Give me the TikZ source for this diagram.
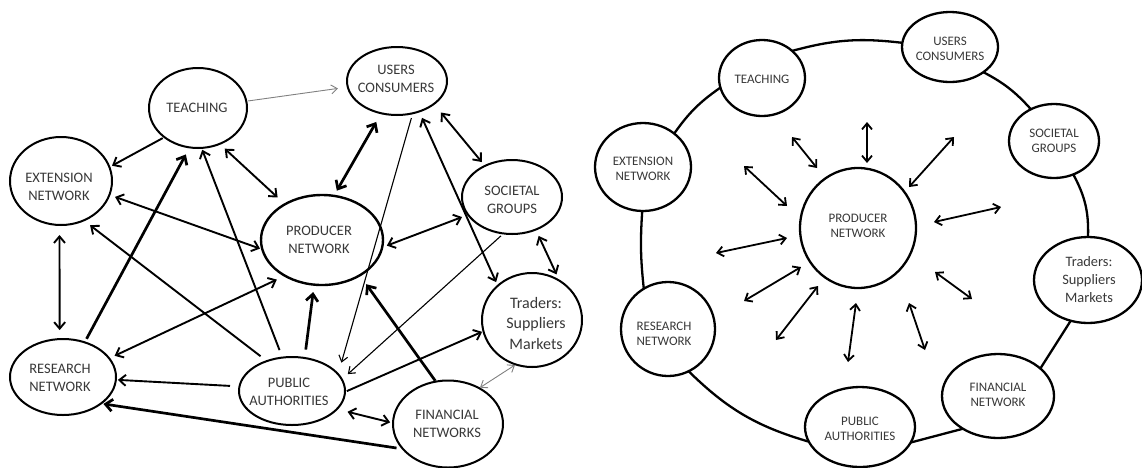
\documentclass[tikz,border=0pt]{standalone}
\usepackage{fontspec}
\setmainfont{Carlito}
\usetikzlibrary{shapes.geometric,arrows.meta}
\begin{document}
\begin{tikzpicture}[x=1pt,y=-1pt,
  ell/.style={ellipse,draw=black,line width=2pt,inner sep=0pt,outer sep=0pt},
  ellr/.style={ellipse,draw=black,line width=2.3pt,inner sep=0pt,outer sep=0pt},
  lbl/.style={align=center,text=black!78,inner sep=0pt,font=\fontsize{14.5}{18}\selectfont},
  lblbig/.style={align=center,text=black!78,inner sep=0pt,font=\fontsize{16}{20.5}\selectfont},
  lblr/.style={align=center,text=black!78,inner sep=0pt,font=\fontsize{13}{15.5}\selectfont},
  lblrbig/.style={align=center,text=black!78,inner sep=0pt,font=\fontsize{14.4}{18}\selectfont},
  conn/.style={line width=1.9pt,>={Straight Barb[length=6.5pt,width=11pt]}},
  connthick/.style={line width=2.7pt,>={Straight Barb[length=7pt,width=12pt]}},
  connthin/.style={line width=1.1pt,>={Straight Barb[length=6pt,width=9pt]}},
  conngray/.style={line width=0.9pt,draw=black!50,>={Straight Barb[length=6pt,width=9pt]}},
  connr/.style={line width=1.8pt,>={Straight Barb[length=6pt,width=10pt]}},
  ring/.style={line width=2.3pt}
]
\useasboundingbox (0,0) rectangle (1142,467);

% ---------------- left diagram ----------------
\node[ell,minimum width=98pt,minimum height=80pt] (teach) at (198,108) {};
\node[ell,minimum width=100pt,minimum height=68pt] (users) at (397,81) {};
\node[ell,minimum width=102pt,minimum height=88pt] (ext) at (61,181) {};
\node[ell,minimum width=100pt,minimum height=74pt] (soc) at (512,197) {};
\node[ell,line width=2.4pt,minimum width=122pt,minimum height=90pt] (prod) at (322,240) {};
\node[ell,minimum width=106pt,minimum height=76pt] (res) at (63,377) {};
\node[ell,minimum width=106pt,minimum height=68pt] (pa) at (292,391) {};
\node[ell,minimum width=110pt,minimum height=87pt] (fin) at (448,424) {};
\node[ell,minimum width=100pt,minimum height=94pt] (trad) at (532,320) {};

\node[lbl] (teachT) at (197,108) {TEACHING};
\node[lbl] (usersT) at (396,79) {USERS\\CONSUMERS};
\node[lbl] (extT) at (59,187) {EXTENSION\\NETWORK};
\node[lbl] (socT) at (512,200) {SOCIETAL\\GROUPS};
\node[lbl] (prodT) at (319,240) {PRODUCER\\NETWORK};
\node[lbl] (resT) at (60,378) {RESEARCH\\NETWORK};
\node[lbl] (paT) at (289,392) {PUBLIC\\AUTHORITIES};
\node[lbl] (finT) at (447,424) {FINANCIAL\\NETWORKS};
\node[lblbig] (tradT) at (536,323) {Traders:\\Suppliers\\Markets};

\draw[conngray,->,shorten <=2pt,shorten >=10pt] (teach.8) -- (users.-173);
\draw[conn,->,shorten <=2pt,shorten >=3pt] (teach.-139) -- (ext.16);
\draw[conn,<->,shorten <=7pt,shorten >=10pt] (teach.-59) -- (prod.136);
\draw[connthick,<->,shorten <=10pt,shorten >=6pt] (users.-116) -- (prod.75);
\draw[conn,<->,shorten <=11pt,shorten >=5pt] (users.-32) -- (soc.131);
\draw[connthin,->,shorten <=5pt,shorten >=12pt] (users.-64) -- (pa.20);
\draw[conn,<->,shorten <=7pt,shorten >=4pt] (users.-54) -- (trad.135);
\draw[conn,<->,shorten <=6.5pt,shorten >=5pt] (soc.202) -- (prod.-7);
\draw[connthin,->,shorten <=3.5pt,shorten >=8pt] (soc.-103) -- (pa.13);
\draw[conn,<->,shorten <=7pt,shorten >=7pt] (soc.-54) -- (trad.55);
\draw[conngray,<->,shorten <=1pt,shorten >=1pt] (fin.49) -- (trad.-110);
\draw[connthick,->,shorten <=1pt,shorten >=11pt] (fin.106) -- (prod.-43);
\draw[conn,<->,shorten <=11pt,shorten >=3pt] (pa.-22) -- (fin.179);
\draw[connthick,->,shorten <=6.5pt,shorten >=2.5pt] (fin.209) -- (res.-35);
\draw[conn,->,shorten <=9.5pt,shorten >=2pt] (pa.175) -- (res.-3);
\draw[conn,->,shorten <=2pt,shorten >=1.5pt] (pa.-1) -- (trad.193);
\draw[connthick,->,shorten <=8.5pt,shorten >=7.5pt] (pa.69) -- (prod.-100);
\draw[conn,<->,shorten <=6pt,shorten >=9pt] (res.22) -- (prod.224);
\draw[conn,->,shorten <=8pt,shorten >=8pt] (pa.130) -- (ext.-60);
\draw[conn,->,shorten <=8pt,shorten >=2pt] (pa.106) -- (teach.-85);
\draw[connthick,->,shorten <=4pt,shorten >=8pt] (res.58) -- (teach.-102);
\draw[conn,<->,shorten <=6pt,shorten >=2.5pt] (ext.-16) -- (prod.189);
\draw[conn,<->,shorten <=10pt,shorten >=9pt] (ext.-92) -- (res.95);

% ---------------- right diagram ----------------
\node[ellr,minimum width=86pt,minimum height=76pt] (T2) at (762,78) {};
\node[ellr,minimum width=96pt,minimum height=70pt] (U2) at (950,47) {};
\node[ellr,minimum width=90pt,minimum height=74pt] (S2) at (1054,141) {};
\node[ellr,minimum width=108pt,minimum height=86pt] (TR2) at (1088,280) {};
\node[ellr,minimum width=112pt,minimum height=84pt] (F2) at (998,396) {};
\node[ellr,minimum width=110pt,minimum height=80pt] (PA2) at (860,427) {};
\node[ellr,minimum width=94pt,minimum height=94pt] (R2) at (668,329) {};
\node[ellr,minimum width=96pt,minimum height=88pt] (E2) at (643,167) {};
\node[ellr,minimum width=116pt,minimum height=120pt] (P2) at (858,228) {};

\node[lblr] (T2T) at (762,79) {TEACHING};
\node[lblr] (U2T) at (950,49) {USERS\\CONSUMERS};
\node[lblr] (S2T) at (1054,141) {SOCIETAL\\GROUPS};
\node[lblrbig] (TR2T) at (1089,280) {Traders:\\Suppliers\\Markets};
\node[lblr] (F2T) at (998,395) {FINANCIAL\\NETWORK};
\node[lblr] (PA2T) at (860,429) {PUBLIC\\AUTHORITIES};
\node[lblr] (R2T) at (664,334) {RESEARCH\\NETWORK};
\node[lblr] (E2T) at (643,169) {EXTENSION\\NETWORK};
\node[lblr] (P2T) at (858,226) {PRODUCER\\NETWORK};

\draw[ring] (T2.42) to[bend left=11] (U2.175);
\draw[ring] (U2.-37) to[bend left=10] (S2.126);
\draw[ring] (S2.-60) to[bend left=15] (TR2.90);
\draw[ring] (TR2.-113) -- (F2.33);
\draw[ring] (F2.-137) -- (PA2.-17);
\draw[ring] (PA2.196) to[bend left=14] (R2.-64);
\draw[ring] (R2.121) to[bend left=5] (E2.-91);
\draw[ring] (E2.47) to[bend left=10] (T2.193);

\coordinate (n1) at (817,168);  \coordinate (f1) at (792,137);
\coordinate (n2) at (867,163);  \coordinate (f2) at (867,122);
\coordinate (n3) at (909,187);  \coordinate (f3) at (954,137);
\coordinate (n4) at (934,222);  \coordinate (f4) at (1001,207);
\coordinate (n5) at (935,272);  \coordinate (f5) at (972,299);
\coordinate (n6) at (909,303);  \coordinate (f6) at (925,350);
\coordinate (n7) at (856,303);  \coordinate (f7) at (848,362);
\coordinate (n8) at (818,286);  \coordinate (f8) at (776,340);
\coordinate (n9) at (801,267);  \coordinate (f9) at (744,301);
\coordinate (n10) at (787,238); \coordinate (f10) at (716,253);
\coordinate (n11) at (787,206); \coordinate (f11) at (744,166);
\foreach \i in {1,...,11} {\draw[connr,<->] (n\i) -- (f\i);}
\end{tikzpicture}
\end{document}
